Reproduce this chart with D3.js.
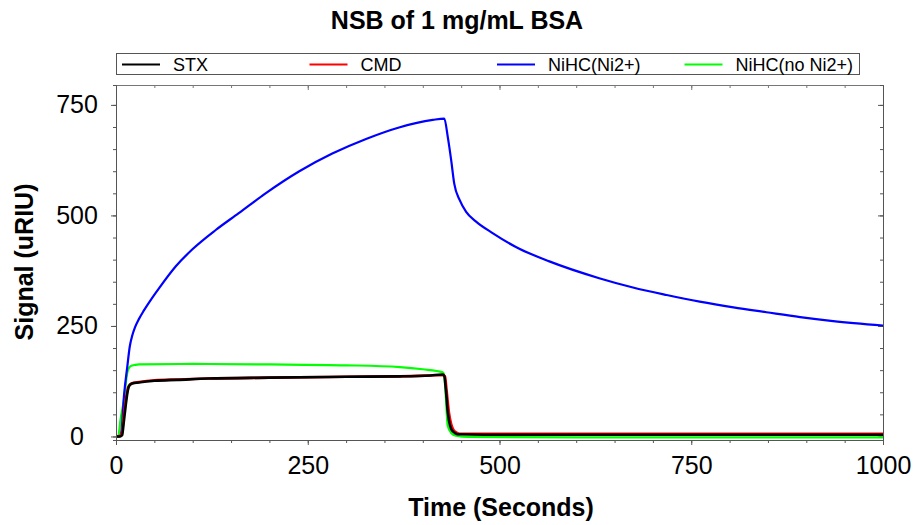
<!DOCTYPE html>
<html>
<head>
<meta charset="utf-8">
<script src="https://cdn.jsdelivr.net/npm/d3@7/dist/d3.min.js"></script>
<style>
  html, body { margin: 0; padding: 0; background: #fff; }
  svg { display: block; font-family: "Liberation Sans", Arial, sans-serif; }
</style>
</head>
<body>
<svg id="chart" width="914" height="525"></svg>
<script>
// ---------- data ----------
const seriesNames = ["STX", "CMD", "NiHC(Ni2+)", "NiHC(no Ni2+)"];
const xTicks = [0, 250, 500, 750, 1000];
const yTicks = [0, 250, 500, 750];

const stxTime   = [0, 5, 8, 10, 12.6, 15, 17, 21, 30, 50, 80, 120, 200, 300, 370, 410, 426, 428, 430, 432.6, 435, 437, 441, 445, 480, 600, 750, 900, 1000];
const stxSignal = [0, 0, 3, 30, 69, 100, 114, 120, 122, 126, 128, 131, 133, 135, 136, 138, 140, 137, 107, 54, 28, 17, 9, 5, 4, 4, 4, 4, 4];

const cmdTime   = [0, 5, 8, 10, 13, 16, 20, 30, 50, 80, 120, 200, 300, 370, 410, 427, 429, 431, 434, 437, 440, 444, 448, 480, 600, 750, 900, 1000];
const cmdSignal = [0, 1, 10, 45, 85, 112, 120, 123, 127, 129, 131, 133, 135, 136, 138, 139, 135, 105, 55, 28, 15, 9, 6, 6, 6, 6, 6, 6];

const nihcTime   = [0, 5, 7, 10.4, 14.8, 17.9, 21.3, 25, 30, 36, 45, 56, 78, 100, 130, 160, 195, 239, 282, 326, 369, 413, 428, 432.6, 437, 441, 448, 456.5, 469.5, 491, 522, 565, 630, 674, 718, 761, 805, 848, 892, 935, 1000];
const nihcSignal = [0, 0, 10, 92, 159, 203, 229, 248, 266, 284, 308, 335, 385, 424, 467, 505, 550, 600, 640, 673, 699, 716, 719, 677, 625, 572, 535, 508, 486, 460, 428, 396, 358, 337, 320, 305, 292, 281, 270, 261, 251];

const noNiTime   = [0, 3, 6, 10.4, 14.8, 19, 25, 30, 100, 200, 300, 370, 400, 426, 428, 430, 432.5, 437, 443, 460, 600, 800, 1000];
const noNiSignal = [0, 2, 39, 84, 145, 159, 162, 163, 164, 163, 161, 157, 152, 145, 137, 90, 24, 8, 2, -1, -2, -2, -2];

const seriesColors = ["#000000", "#ff0000", "#0000ff", "#00ff00"];

// ---------- layout ----------
const svg = d3.select("#chart");
const L = 116, R = 883, T = 85, B = 440;
const x = d3.scaleLinear().domain([0, 1000]).range([L, R]);
const y = d3.scaleLinear().domain([-8, 795]).range([B, T]);

const series = [
  { name: seriesNames[0], t: stxTime, v: stxSignal, color: seriesColors[0] },
  { name: seriesNames[1], t: cmdTime, v: cmdSignal, color: seriesColors[1] },
  { name: seriesNames[2], t: nihcTime, v: nihcSignal, color: seriesColors[2] },
  { name: seriesNames[3], t: noNiTime, v: noNiSignal, color: seriesColors[3] }
];

// title
svg.append("text").attr("x", 457).attr("y", 29).attr("text-anchor", "middle")
  .attr("font-size", 25).attr("font-weight", "bold").text("NSB of 1 mg/mL BSA");

const minorX = d3.range(0, 1001, 50);
const minorY = d3.range(0, 751, 50);

// frame (top/right)
svg.append("g").attr("transform", `translate(0,${T})`)
  .call(d3.axisTop(x).tickValues(minorX).tickSize(-3).tickFormat(""))
  .call(g => g.selectAll("line,path").attr("stroke", "#777"));
svg.append("g").attr("transform", `translate(0,${T})`)
  .call(d3.axisTop(x).tickValues(xTicks).tickSize(-5).tickFormat(""))
  .call(g => g.select(".domain").remove())
  .call(g => g.selectAll("line").attr("stroke", "#777"));
svg.append("g").attr("transform", `translate(${R},0)`)
  .call(d3.axisRight(y).tickValues(minorY).tickSize(-3).tickFormat(""))
  .call(g => g.selectAll("line,path").attr("stroke", "#555"));
svg.append("g").attr("transform", `translate(${R},0)`)
  .call(d3.axisRight(y).tickValues(yTicks).tickSize(-5).tickFormat(""))
  .call(g => g.select(".domain").remove())
  .call(g => g.selectAll("line").attr("stroke", "#555"));

// lines
svg.append("clipPath").attr("id", "clip").append("rect")
  .attr("x", L).attr("y", T).attr("width", R - L).attr("height", B - T);
const line = d3.line().x(d => x(d[0])).y(d => y(d[1])).curve(d3.curveMonotoneX);
const plot = svg.append("g").attr("clip-path", "url(#clip)");
[3, 2, 1, 0].forEach(i => {
  const s = series[i];
  plot.append("path")
    .datum(s.t.map((t, j) => [t, s.v[j]]))
    .attr("fill", "none").attr("stroke", s.color).attr("stroke-width", i < 2 ? 2.6 : 2.2)
    .attr("stroke-linejoin", "round").attr("d", line);
});

// left axis
svg.append("g").attr("transform", `translate(${L},0)`)
  .call(d3.axisLeft(y).tickValues(minorY).tickSize(3).tickFormat(""))
  .call(g => g.selectAll("line,path").attr("stroke", "#555"));
const yAx = svg.append("g").attr("transform", `translate(${L},0)`)
  .call(d3.axisLeft(y).tickValues(yTicks).tickSize(5).tickFormat(d3.format("d")))
  .call(g => g.select(".domain").remove());
yAx.selectAll("line").attr("stroke", "#555");
yAx.selectAll("text").attr("font-size", 25).attr("fill", "#000")
  .attr("text-anchor", "middle").attr("x", 77 - L)
  .attr("font-family", "Liberation Sans, Arial, sans-serif");

// bottom axis
svg.append("g").attr("transform", `translate(0,${B})`)
  .call(d3.axisBottom(x).tickValues(minorX).tickSize(3).tickFormat(""))
  .call(g => g.selectAll("line,path").attr("stroke", "#555"));
const xAx = svg.append("g").attr("transform", `translate(0,${B})`)
  .call(d3.axisBottom(x).tickValues(xTicks).tickSize(5).tickPadding(11).tickFormat(d3.format("d")))
  .call(g => g.select(".domain").remove());
xAx.selectAll("line").attr("stroke", "#555");
xAx.selectAll("text").attr("font-size", 25).attr("fill", "#000")
  .attr("font-family", "Liberation Sans, Arial, sans-serif");

// axis titles
svg.append("text").attr("x", 501).attr("y", 516).attr("text-anchor", "middle")
  .attr("font-size", 25).attr("font-weight", "bold").text("Time (Seconds)");
svg.append("text").attr("transform", "translate(33,262) rotate(-90)")
  .attr("text-anchor", "middle").attr("font-size", 25).attr("font-weight", "bold")
  .text("Signal (uRIU)");

// legend
const lg = svg.append("g");
lg.append("rect").attr("x", 116.5).attr("y", 53.5).attr("width", 743).attr("height", 21)
  .attr("fill", "#fff").attr("stroke", "#555").attr("stroke-width", 1);
series.forEach((s, i) => {
  const x0 = 122 + i * 187.5;
  lg.append("line").attr("x1", x0).attr("x2", x0 + 38).attr("y1", 64.5).attr("y2", 64.5)
    .attr("stroke", s.color).attr("stroke-width", 2);
  lg.append("text").attr("x", x0 + 51).attr("y", 71).attr("font-size", 18).text(s.name);
});
</script>
</body>
</html>
